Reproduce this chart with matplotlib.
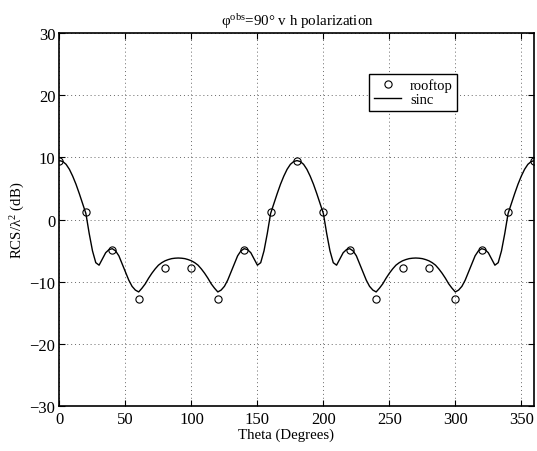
import numpy as np
import matplotlib
matplotlib.use('Agg')
import matplotlib.pyplot as plt

plt.rcParams['font.family'] = ['Liberation Serif', 'DejaVu Serif']
plt.rcParams['mathtext.fontset'] = 'custom'
plt.rcParams['mathtext.rm'] = 'Liberation Serif'
plt.rcParams['mathtext.it'] = 'Liberation Serif:italic'

# rooftop samples, every 20 degrees
theta_rooftop = [0, 20, 40, 60, 80, 100, 120, 140, 160, 180,
                 200, 220, 240, 260, 280, 300, 320, 340, 360]
rcs_rooftop = [9.4, 1.2, -4.8, -12.8, -7.7, -7.7, -12.8, -4.8, 1.2, 9.4,
               1.2, -4.8, -12.8, -7.7, -7.7, -12.8, -4.8, 1.2, 9.4]

# sinc curve, 0..90 deg every 2.5 deg (curve is mirrored / repeats)
rcs_half = [9.5, 9.35, 8.9, 8.1, 7.0, 5.7, 4.2, 2.6, 1.0, -2.2,
            -5.0, -6.9, -7.3, -6.3, -5.3, -4.8, -4.65, -5.0, -5.8, -7.1,
            -8.4, -9.7, -10.7, -11.3, -11.6, -11.0, -10.3, -9.4, -8.6, -7.9,
            -7.3, -6.9, -6.6, -6.4, -6.25, -6.18, -6.15]

period = rcs_half + rcs_half[-2::-1]          # 0..180
rcs_sinc = period + period[1:]                 # 0..360
theta_sinc = np.arange(0, 360.1, 2.5)

fig = plt.figure(figsize=(5.37, 4.52), dpi=100)
ax = fig.add_axes([0.1108, 0.0985, 0.8845, 0.8263])

ax.plot(theta_rooftop, rcs_rooftop, 'o', mfc='none', mec='black', ms=5.2, mew=0.8,
        label='rooftop')
ax.plot(theta_sinc, rcs_sinc, '-', color='black', lw=1.0, label='sinc')

ax.set_xlim(0, 360)
ax.set_ylim(-30, 30)
ax.set_xticks(np.arange(0, 351, 50))
ax.set_yticks(np.arange(-30, 31, 10))
ax.grid(True, linestyle=(0, (1, 3)), color='black', linewidth=0.7, alpha=0.6)
ax.tick_params(direction='in', top=True, right=True, labelsize=12, length=4, pad=3)
for s in ax.spines.values():
    s.set_linewidth(1.2)

ax.set_xlabel('Theta (Degrees)', fontsize=10.7)
ax.xaxis.set_label_coords(0.476, -0.055)
ax.set_ylabel(r'RCS/λ$^2$ (dB)', fontsize=10.7, labelpad=2)
ax.set_title(r'$\mathrm{φ}^{\mathrm{obs}}$=90° v h polarization', fontsize=10.8, pad=6)

leg = ax.legend(loc='upper left', bbox_to_anchor=(0.637, 0.909), fontsize=10.5,
                fancybox=False, edgecolor='black', framealpha=1,
                handlelength=1.9, borderpad=0.3, labelspacing=0.05, handletextpad=0.6)
leg.get_frame().set_linewidth(1.0)

fig.savefig('out.png', dpi=100)
